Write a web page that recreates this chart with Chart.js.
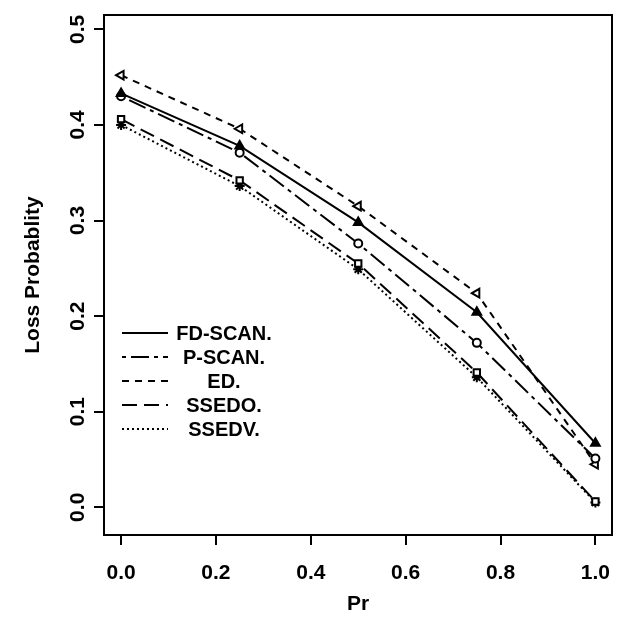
<!DOCTYPE html>
<html>
<head>
<meta charset="utf-8">
<script src="https://cdn.jsdelivr.net/npm/chart.js@4.4.0/dist/chart.umd.min.js"></script>
<style>
  html, body { margin: 0; padding: 0; background: #fff; }
  #wrap { width: 619px; height: 620px; }
</style>
</head>
<body>
<div id="wrap"><canvas id="lossChart"></canvas></div>
<script>
// DATA
let prValues = [0, 0.25, 0.5, 0.75, 1.0];
let seriesNames = ['FD-SCAN.', 'P-SCAN.', 'ED.', 'SSEDO.', 'SSEDV.'];
let fdScan = [0.433, 0.378, 0.298, 0.204, 0.067];
let pScan = [0.430, 0.371, 0.276, 0.172, 0.051];
let ed = [0.452, 0.396, 0.315, 0.224, 0.045];
let ssedo = [0.406, 0.342, 0.255, 0.141, 0.006];
let ssedv = [0.400, 0.336, 0.249, 0.136, 0.005];
let yTicks = [0.0, 0.1, 0.2, 0.3, 0.4, 0.5];

let ctx = document.querySelector('#lossChart').getContext('2d');
let FONT = '"Liberation Sans", Arial, sans-serif';

function toPoints(arr) {
    return arr.map((v, i) => ({ x: prValues[i], y: v }));
}

// styles per series
let dashes = [[], [4, 5, 18, 5], [7, 6], [15, 7], [2, 3]];
let markers = ['triangle', 'circle', 'triangle', 'rect', 'star'];
let markerRot = [0, 0, -90, 0, 0];
let markerSize = [5, 4, 5, 4.5, 5];
let markerFill = ['#000', '#fff', '#fff', '#fff', '#000'];
let allSeries = [fdScan, pScan, ed, ssedo, ssedv];

let datasets = allSeries.map((s, i) => ({
    label: seriesNames[i],
    data: toPoints(s),
    borderColor: '#000',
    borderWidth: 2,
    borderDash: dashes[i],
    pointStyle: markers[i],
    pointRotation: markerRot[i],
    pointRadius: markerSize[i],
    pointBorderWidth: 2,
    pointBackgroundColor: markerFill[i],
    pointBorderColor: '#000',
    tension: 0
}));

// box, y labels and legend drawn by hand
let framePlugin = {
    id: 'frame',
    afterDraw(chart) {
        let c = chart.ctx;
        let a = chart.chartArea;
        let ys = chart.scales.y;
        c.save();
        c.strokeStyle = '#000';
        c.lineWidth = 2;
        c.setLineDash([]);
        c.strokeRect(a.left, a.top, a.right - a.left, a.bottom - a.top);

        // y tick labels, rotated like R
        c.fillStyle = '#000';
        c.font = 'bold 21px ' + FONT;
        c.textAlign = 'center';
        c.textBaseline = 'middle';
        for (let t of yTicks) {
            c.save();
            c.translate(78, ys.getPixelForValue(t));
            c.rotate(-Math.PI / 2);
            c.fillText(t.toFixed(1), 0, 0);
            c.restore();
        }
        // y title
        c.save();
        c.font = 'bold 21px ' + FONT;
        c.translate(33, (a.top + a.bottom) / 2);
        c.rotate(-Math.PI / 2);
        c.fillText('Loss Probablity', 0, 0);
        c.restore();

        // legend
        c.font = 'bold 20px ' + FONT;
        let rowY = 333;
        chart.data.datasets.forEach((ds, i) => {
            let y = rowY + i * 24;
            c.beginPath();
            c.setLineDash(ds.borderDash);
            c.lineWidth = 2;
            c.moveTo(122, y);
            c.lineTo(168, y);
            c.stroke();
            c.setLineDash([]);
            c.fillText(ds.label, 224, y + 1);
        });
        c.restore();
    }
};

let lossChart = new Chart(ctx, {
    type: 'line',
    data: { datasets: datasets },
    options: {
        responsive: true,
        maintainAspectRatio: false,
        animation: false,
        layout: { padding: { left: 0, right: 6, top: 15, bottom: 0 } },
        plugins: {
            legend: { display: false },
            tooltip: { enabled: false }
        },
        scales: {
            x: {
                type: 'linear',
                min: -0.036,
                max: 1.035,
                border: { display: false },
                grid: { drawOnChartArea: false, drawTicks: true, tickLength: 10, color: '#000', lineWidth: 2 },
                ticks: {
                    stepSize: 0.2,
                    includeBounds: false,
                    color: '#000',
                    padding: 16,
                    font: { family: FONT, size: 21, weight: 'bold' },
                    callback: v => v.toFixed(1)
                },
                title: {
                    display: true,
                    text: 'Pr',
                    color: '#000',
                    font: { family: FONT, size: 21, weight: 'bold' },
                    padding: { top: 0, bottom: 3 }
                },
                afterFit: s => {
                    s.height = 85;
                    s.paddingLeft = 0;
                    s.paddingRight = 0;
                }
            },
            y: {
                type: 'linear',
                min: -0.029,
                max: 0.515,
                border: { display: false },
                grid: { drawOnChartArea: false, drawTicks: true, tickLength: 10, color: '#000', lineWidth: 2 },
                ticks: {
                    stepSize: 0.1,
                    includeBounds: false,
                    display: false
                },
                afterFit: s => {
                    s.width = 104;
                    s.paddingTop = 0;
                    s.paddingBottom = 0;
                }
            }
        }
    },
    plugins: [framePlugin]
});
</script>
</body>
</html>
